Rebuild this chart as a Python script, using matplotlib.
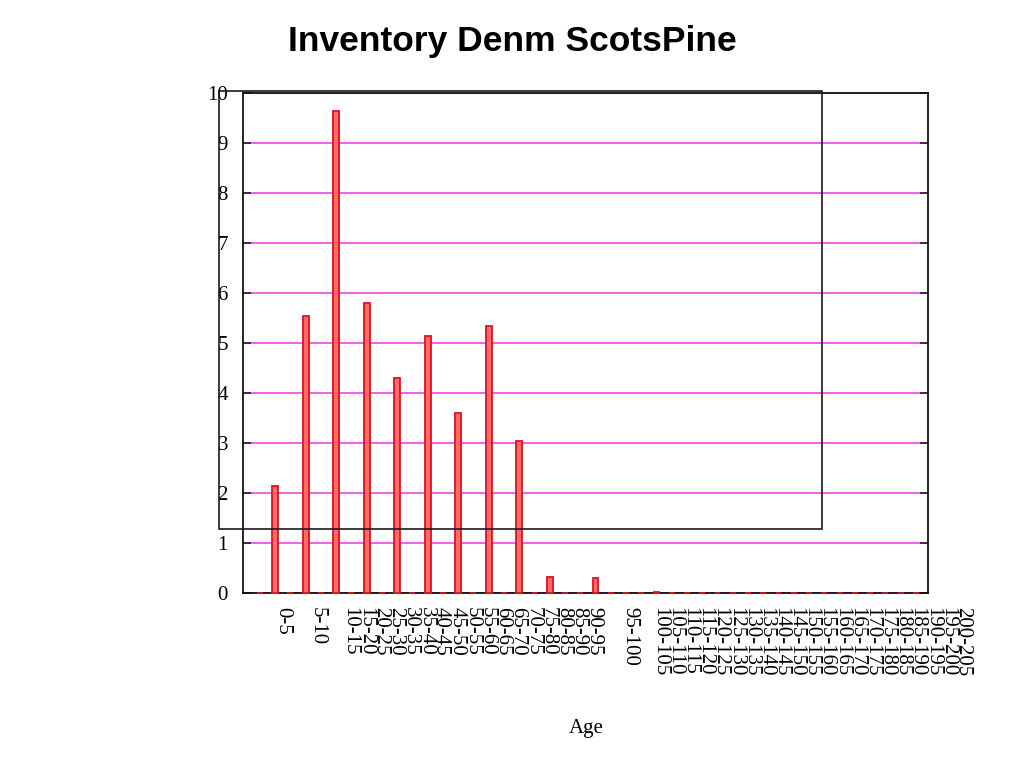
import matplotlib
matplotlib.use("Agg")
import matplotlib.pyplot as plt
from matplotlib.patches import Rectangle
from matplotlib.transforms import blended_transform_factory

# ---- data ----
title = "Inventory Denm ScotsPine"
x_title = "Age"
age_classes = [f"{a}-{a+5}" for a in range(0, 205, 5)]  # 0-5 ... 200-205
# bar values per plotting slot (zero-height bars appear as dashes on the baseline)
slot_values = [0, 2.15, 0, 5.55, 0, 9.65, 0, 5.8, 0, 4.3,
               0, 5.15, 0, 3.6, 0, 5.35, 0, 3.05, 0, 0.32,
               0, 0, 0.3, 0, 0, 0, 0.03, 0, 0, 0,
               0, 0, 0, 0, 0, 0, 0, 0, 0, 0,
               0, 0, 0, 0]
y_ticks = list(range(0, 11))

# ---- label placement (layout) ----
label_pos = [1.5, 3.75] + [5.9 + k for k in range(17)] + [24.25] + [26.2 + 0.993 * k for k in range(21)]

W, H = 1024, 768
fig = plt.figure(figsize=(W / 100, H / 100), dpi=100)
L, R, T, B = 243, 928, 93, 593
ax = fig.add_axes([L / W, 1 - B / H, (R - L) / W, (B - T) / H])

serif = "Liberation Serif"
ax.bar(range(len(slot_values)), slot_values, width=0.39, color="#ff6a6a",
       edgecolor="#e3101c", linewidth=1.3, zorder=3, clip_on=False)

ax.set_xlim(-1.11, 43.8)
ax.set_ylim(0, 10)
ax.set_yticks(y_ticks)
ax.set_yticklabels([str(v) for v in y_ticks], fontfamily=serif, fontsize=15)
ax.set_xticks([])
ax.yaxis.grid(True, color="#ee44ee", linewidth=1.2, zorder=1)
ax.set_axisbelow(True)
ax.tick_params(axis="y", direction="in", left=True, right=True, length=6,
               width=1.2, color="#222222", pad=10.8)
for s in ax.spines.values():
    s.set_color("#111111")
    s.set_linewidth(1.3)
    s.set_zorder(2)

trans = blended_transform_factory(ax.transData, ax.transAxes)
for lab, xp in zip(age_classes, label_pos):
    ax.text(xp, -0.028, lab, transform=trans, rotation=-90, ha="center", va="top",
            fontfamily=serif, fontsize=15, clip_on=False)

fig.text(0.5, 1 - 42 / H, title, ha="center", va="center", fontsize=25.5,
         fontweight="bold", fontfamily="Liberation Sans")
fig.text(586 / W, 1 - 728 / H, x_title, ha="center", va="center",
         fontfamily=serif, fontsize=15)

rect = Rectangle((219 / W, 1 - 529 / H), (822 - 219) / W, (529 - 91) / H,
                 transform=fig.transFigure, fill=False, edgecolor="#1a1a1a",
                 linewidth=1.2, zorder=5)
fig.add_artist(rect)

fig.savefig("out.png", dpi=100)
